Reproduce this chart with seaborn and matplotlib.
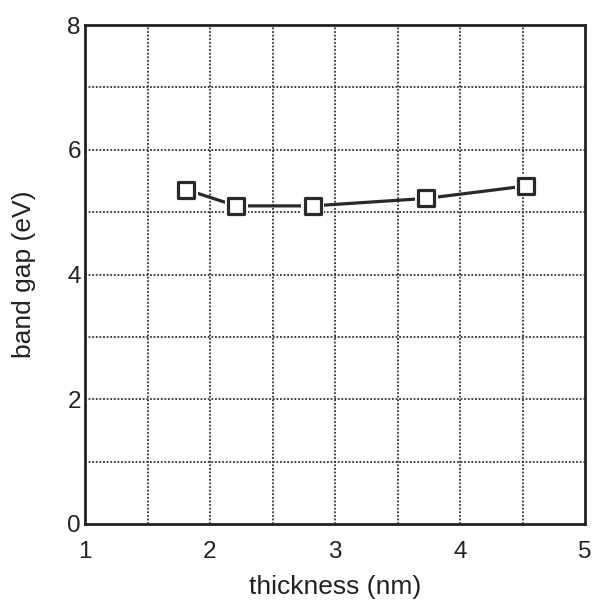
import matplotlib
matplotlib.use("Agg")
import matplotlib.pyplot as plt
import seaborn as sns
import pandas as pd
import numpy as np

thickness = [1.81, 2.21, 2.82, 3.73, 4.53]
band_gap = [5.36, 5.10, 5.10, 5.22, 5.42]
x_ticks = [1, 2, 3, 4, 5]
y_ticks = [0, 2, 4, 6, 8]

sns.set_style("white")
plt.rcParams['font.family'] = ['Liberation Sans', 'DejaVu Sans']

df = pd.DataFrame({"thickness": thickness, "band_gap": band_gap})

fig = plt.figure(figsize=(5.97, 6.09), dpi=100)
ax = fig.add_axes([85/597, (609-524)/609, 500/597, 499/609])

sns.lineplot(data=df, x="thickness", y="band_gap", ax=ax, color="#2a2a2a",
             linewidth=2.3, zorder=4)
# white halo around markers (line stops short of each box)
sns.scatterplot(data=df, x="thickness", y="band_gap", ax=ax, marker="s",
                s=270, color="white", edgecolor="none", zorder=5)
sns.scatterplot(data=df, x="thickness", y="band_gap", ax=ax, marker="s",
                s=125, facecolor="white", edgecolor="#2a2a2a", linewidth=2.3,
                zorder=6)

ax.set_xlim(1, 5)
ax.set_ylim(0, 8)
ax.set_xticks(x_ticks)
ax.set_yticks(y_ticks)
ax.xaxis.remove_overlapping_locs = False
ax.yaxis.remove_overlapping_locs = False
ax.set_xticks(np.arange(1.5, 5.0, 0.5), minor=True)
ax.set_yticks(np.arange(1, 8.0, 1), minor=True)
ax.grid(which="minor", color="#333333", linestyle=(0, (1, 1)), linewidth=1.3)
ax.grid(which="major", visible=False)
ax.tick_params(which="both", length=0, labelsize=17.5, colors="#222222")
ax.tick_params(axis="x", pad=12)
ax.tick_params(axis="y", pad=3)
for lab in ax.get_yticklabels():
    lab.set_va("center_baseline")
for s in ax.spines.values():
    s.set_color("#222222")
    s.set_linewidth(2)

ax.set_xlabel("thickness (nm)", fontsize=19, color="#222222")
ax.set_ylabel("band gap (eV)", fontsize=19, color="#222222")
ax.xaxis.set_label_coords(0.5, -0.102)
ax.yaxis.set_label_coords(-0.098, 0.5)

fig.savefig("out.png", dpi=100)
